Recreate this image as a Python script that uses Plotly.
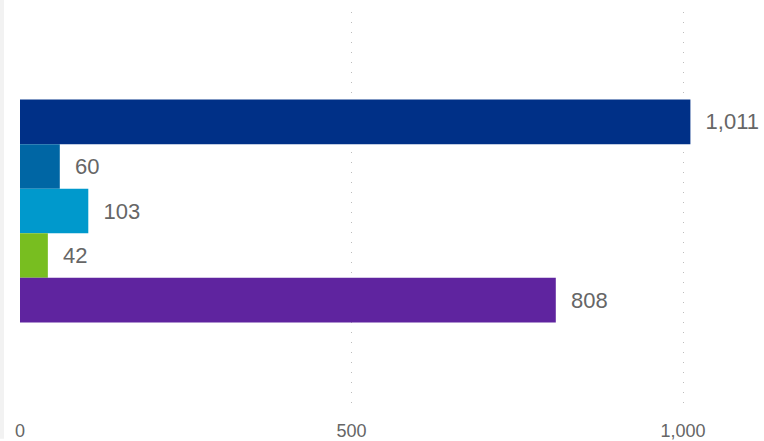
import plotly.graph_objects as go

categories = [""]
series_names = ["A", "B", "C", "D", "E"]
series_values = [1011, 60, 103, 42, 808]
series_colors = ["#003087", "#0066A4", "#0099CC", "#78BE20", "#5F249F"]
tick_values = [0, 500, 1000]
tick_labels = ["0", "500", "1,000"]

FONT = "Liberation Sans, Arial, sans-serif"

fig = go.Figure()
for name, val, col in zip(series_names, series_values, series_colors):
    fig.add_trace(go.Bar(
        y=categories, x=[val], name=name, orientation="h",
        marker=dict(color=col, line=dict(width=0)),
        text=["\u00a0\u00a0" + f"{val:,}"], textposition="outside",
        textfont=dict(family=FONT, size=22, color="#666666"),
        cliponaxis=False,
    ))

W, H = 764, 441
ml, mr, mt, mb = 20, 0, 12, 29
fig.update_layout(
    width=W, height=H,
    margin=dict(l=ml, r=mr, t=mt, b=mb),
    barmode="group", bargap=0.44, bargroupgap=0,
    showlegend=False,
    paper_bgcolor="white", plot_bgcolor="white",
    xaxis=dict(
        range=[0, 1122], tickvals=tick_values, ticktext=tick_labels,
        showgrid=True, gridcolor="#bdbdbd", gridwidth=1, griddash="1px,9px",
        zeroline=False, showline=False, ticks="", ticklabelstandoff=8,
        tickfont=dict(family=FONT, size=18, color="#666666"),
    ),
    yaxis=dict(
        autorange="reversed", showticklabels=False, showgrid=False,
        zeroline=False, showline=False, ticks="",
    ),
    shapes=[dict(
        type="rect", xref="paper", yref="paper",
        x0=-ml / (W - ml - mr), x1=-(ml - 4) / (W - ml - mr),
        y0=-mb / (H - mt - mb), y1=1 + mt / (H - mt - mb),
        fillcolor="#f2f2f2", line=dict(width=0), layer="below",
    )],
)
fig.update_traces(textangle=0)
fig.write_html("out.html", config={"displayModeBar": False},
               post_script="document.body.style.margin='0';")
